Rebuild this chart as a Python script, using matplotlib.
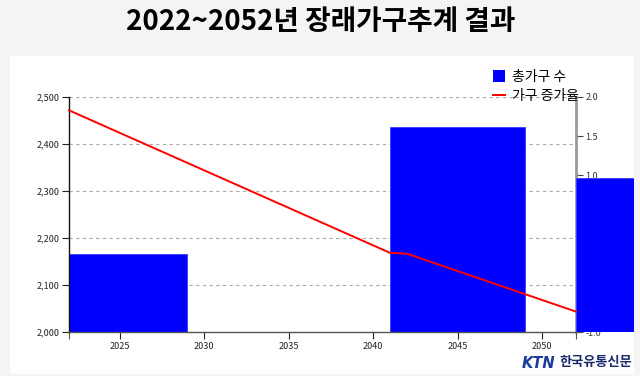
import matplotlib
matplotlib.use("Agg")
import matplotlib.pyplot as plt
from matplotlib.patches import Rectangle
from matplotlib.ticker import FuncFormatter, FixedLocator
from matplotlib.lines import Line2D

plt.rcParams['font.family'] = ['Noto Sans CJK KR', 'DejaVu Sans']

title = "2022~2052년 장래가구추계 결과"
bar_label = "총가구 수"
line_label = "가구 증가율"

bar_years = [2022, 2041, 2052]
bar_widths = [7, 8, 8]
households = [2166, 2437, 2328]

line_years = [2022, 2041, 2042, 2052]
growth = [1.83, 0.01, 0.00, -0.74]

left_ticks = [2000, 2100, 2200, 2300, 2400, 2500]
right_ticks = [-1.0, -0.5, 0.0, 0.5, 1.0, 1.5, 2.0]
x_ticks = [2025, 2030, 2035, 2040, 2045, 2050]

W, H = 640, 376
fig = plt.figure(figsize=(W / 100, H / 100), dpi=100)
fig.patch.set_facecolor('#f4f4f4')

panel = Rectangle((10 / W, 1 - 374 / H), 624 / W, (374 - 56) / H,
                  transform=fig.transFigure, facecolor='white',
                  edgecolor='none', zorder=-5)
fig.patches.append(panel)

fig.text(321 / W, 1 - 22 / H, title, ha='center', va='center',
         fontsize=20, fontweight='bold', color='black')

ax_l, ax_r, ax_b, ax_t = 69, 576, 332, 97
pos = [ax_l / W, 1 - ax_b / H, (ax_r - ax_l) / W, (ax_b - ax_t) / H]
ax2 = fig.add_axes(pos)
ax = fig.add_axes(pos)
ax2.set_zorder(1)
ax.set_zorder(2)
ax.patch.set_visible(False)
ax2.patch.set_visible(False)

# clip region: the white panel, above the x axis
bar_clip = Rectangle((ax_l / W, 1 - ax_b / H), (634 - ax_l) / W, (ax_b - 56) / H,
                     transform=fig.transFigure, facecolor='none', edgecolor='none')

bars = ax.bar(bar_years, households, width=bar_widths, align='edge',
              color='#0000ff', edgecolor='#3a3aff', linewidth=0.6, zorder=2)
for b in bars:
    b.set_clip_path(bar_clip)
ax.set_xlim(2022, 2052)
ax.set_ylim(2000, 2500)
ax.yaxis.set_major_locator(FixedLocator(left_ticks))
ax.yaxis.set_major_formatter(FuncFormatter(lambda v, p: f"{int(v):,}"))
ax.xaxis.set_major_locator(FixedLocator(x_ticks))
ax.xaxis.set_minor_locator(FixedLocator([2022, 2052]))
ax.xaxis.set_major_formatter(FuncFormatter(lambda v, p: f"{int(v)}"))
ax.tick_params(axis='both', labelsize=6.5, length=5, width=0.8,
               color='#222222', labelcolor='#222222', pad=2)
ax.tick_params(axis='x', which='minor', length=5, width=0.8, color='#555555')
ax.grid(axis='y', linestyle=(0, (3, 3)), color='#aaaaaa', linewidth=0.8)
ax.set_axisbelow(True)
for s in ['top', 'right']:
    ax.spines[s].set_visible(False)
ax.spines['left'].set_color('#111111')
ax.spines['bottom'].set_color('#555555')
ax.spines['left'].set_linewidth(1.0)
ax.spines['bottom'].set_linewidth(1.0)

# right axis
ax2.set_xlim(2022, 2052)
ax2.set_ylim(-1.0, 2.0)
ax2.yaxis.tick_right()
ax2.yaxis.set_major_locator(FixedLocator(right_ticks))
ax2.yaxis.set_major_formatter(FuncFormatter(lambda v, p: f"{v:.1f}"))
ax2.tick_params(axis='y', labelsize=6.5, length=5, width=0.8,
                color='#444444', labelcolor='#333333', pad=2)
ax2.set_xticks([])
for s in ['top', 'left', 'bottom']:
    ax2.spines[s].set_visible(False)
ax2.spines['right'].set_color('#9a9a9a')
ax2.spines['right'].set_linewidth(2)

# growth line drawn with the right axis scale, above bars
ax.plot(line_years, growth, color='#ff0000', linewidth=1.4,
        transform=ax2.transData, zorder=3, clip_on=False)

handles = [Rectangle((0, 0), 1, 1, facecolor='#0000ff', edgecolor='none'),
           Line2D([0], [0], color='#ff0000', linewidth=1.4)]
leg = ax.legend(handles, [bar_label, line_label], loc='upper left',
                bbox_to_anchor=(486 / W, 1 - 63 / H),
                bbox_transform=fig.transFigure, frameon=False,
                fontsize=10, handlelength=0.9, handleheight=0.9,
                handletextpad=0.45, labelspacing=0.35, borderpad=0)
leg.set_zorder(10)

# logo text
fig.text(538 / W, 1 - 363 / H, "KTN", ha='center', va='center',
         fontsize=10.5, fontweight='bold', fontstyle='italic', color='#1a3a9c',
         family=['DejaVu Sans'])
fig.text(596 / W, 1 - 362 / H, "한국유통신문", ha='center', va='center',
         fontsize=9.5, fontweight='bold', color='#1a2a6c')

fig.savefig("out.png", dpi=100, facecolor=fig.get_facecolor())
